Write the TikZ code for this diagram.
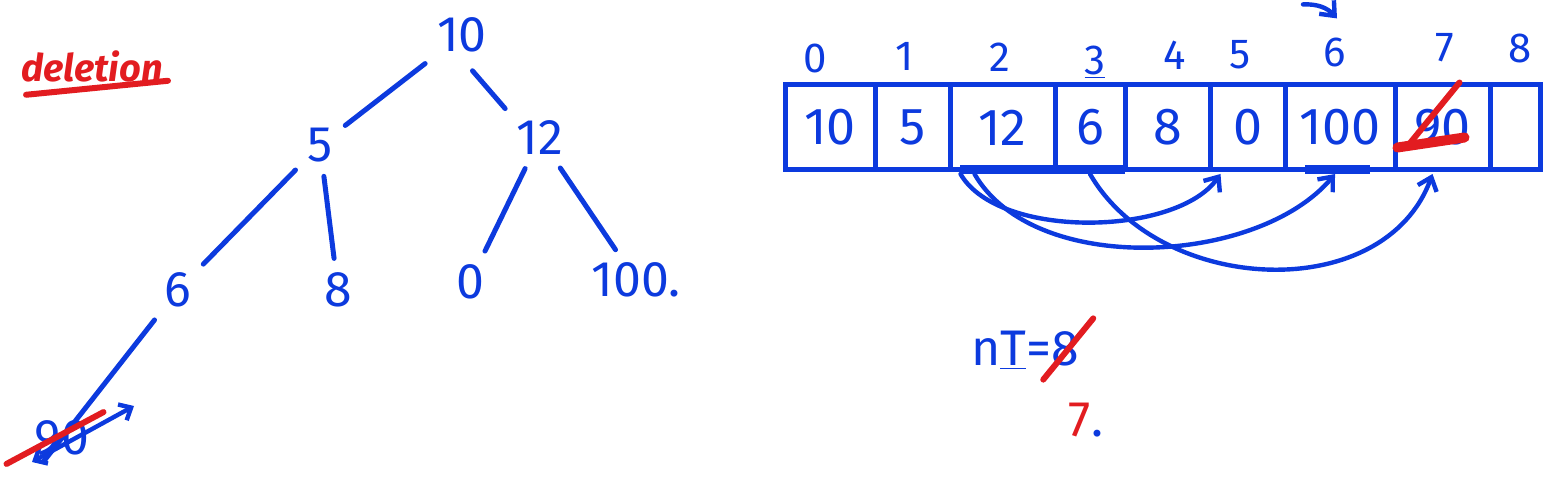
\documentclass[tikz,border=0pt]{standalone}
\usepackage{fontspec}
\setmainfont{Fira Sans}
\usetikzlibrary{calc,arrows.meta}
\definecolor{penBlue}{RGB}{12,58,222}
\definecolor{penRed}{RGB}{226,28,32}

\begin{document}
\begin{tikzpicture}[x=0.5pt, y=-0.5pt]
    % Styles
    \tikzstyle{key} = [text=penBlue, font=\fontsize{25}{28}\selectfont, inner sep=3pt]
    \tikzstyle{edge} = [penBlue, line width=2.5pt, line cap=round, shorten <=4pt, shorten >=4pt]
    \tikzstyle{cell} = [draw=penBlue, line width=2.5pt, minimum height=42.5pt, inner sep=0pt, outer sep=0pt, text=penBlue, font=\fontsize{26}{30}\selectfont]
    \tikzstyle{index} = [text=penBlue, font=\fontsize{21}{24}\selectfont]
    \tikzstyle{arrow} = [-{Straight Barb[length=6pt, width=10pt]}, penBlue, line width=2.2pt, line cap=round]
    \tikzstyle{strike} = [penRed, line width=3pt, line cap=round]

    \useasboundingbox (0,0) rectangle (1543,480);

    % Title
    \node[text=penRed, font=\fontsize{19}{22}\selectfont\bfseries\itshape] (title) at (92,66) {deletion};
    \draw[strike] ($(title.south west)+(12,6)$) -- ($(title.south east)+(-2,-8)$);

    % Tree
    \node[key] (n10) at (462,35) {10};
    \node[key] (n5) at (320,145) {5};
    \node[key] (n12) at (540,138) {12};
    \node[key] (n6) at (178,290) {6};
    \node[key] (n8) at (338,290) {8};
    \node[key] (n0) at (470,282) {0};
    \node[key] (n100) at (636,280) {100.};
    \node[key] (n90) at (62,438) {90};

    \draw[edge] (n10) -- (n5);
    \draw[edge, shorten <=8pt] (n10.south) -- (n12.north west);
    \draw[edge] (n5) -- (n6);
    \draw[edge] (n5) -- (n8);
    \draw[edge] (n12) -- (n0);
    \draw[edge] (n12) -- (n100);
    \draw[edge, shorten >=-30pt] (n6) -- (n90);
    \draw[arrow, {Straight Barb[length=5pt, width=9pt]}-{Straight Barb[length=5pt, width=9pt]}] ($(n90)+(-30,24)$) -- ($(n90)+(72,-32)$);
    \draw[strike] ($(n90.south west)+(-22,2)$) -- ($(n90.north east)+(8,-2)$);

    % Array
    \node[cell, minimum width=45pt] (c0) at (830,127.5) {10};
    \node[cell, minimum width=37.5pt] (c1) at (912.5,127.5) {5};
    \node[cell, minimum width=52.5pt] (c2) at (1002.5,127.5) {12};
    \node[cell, minimum width=35pt] (c3) at (1090,127.5) {6};
    \node[cell, minimum width=42.5pt] (c4) at (1167.5,127.5) {8};
    \node[cell, minimum width=37.5pt] (c5) at (1247.5,127.5) {0};
    \node[cell, minimum width=55pt] (c6) at (1340,127.5) {100};
    \node[cell, minimum width=47.5pt] (c7) at (1442.5,127.5) {90};
    \node[cell, minimum width=25pt] (c8) at (1515,127.5) {};

    % Indices
    \node[index] (i0) at (815,58) {0};
    \node[index] (i1) at (905,56) {1};
    \node[index] (i2) at (1000,57) {2};
    \node[index] (i3) at (1095,62) {\underline{3}};
    \node[index] (i4) at (1175,55) {4};
    \node[index] (i5) at (1240,55) {5};
    \node[index] (i6) at (1335,52) {6};
    \node[index] (i7) at (1445,48) {7};
    \node[index] (i8) at (1520,48) {8};
    \draw[arrow] ($(i6.north)+(-32,-26)$) to[bend left=25] ($(i6.north)+(2,-12)$);

    % Swaps
    \draw[penBlue, line width=4.5pt] ($(c2.south west)+(10,0)$) -- (c3.south east);
    \draw[penBlue, line width=4.5pt] ($(c6.south)+(-35,0)$) -- ($(c6.south)+(30,0)$);
    \draw[arrow] ($(c2.south)+(-42,4)$) to[out=-60, in=-125, looseness=0.75] ($(c5.south)+(-27,4)$);
    \draw[arrow] ($(c2.south)+(-28,4)$) to[out=-60, in=-130, looseness=0.85] ($(c6.south)+(-5,4)$);
    \draw[arrow] ($(c3.south)+(0,4)$) to[out=-60, in=-110, looseness=1.05] ($(c7.south)+(-10,4)$);

    % Removed value
    \draw[strike] ($(c7)+(17,-45)$) -- ($(c7)+(-32,15)$);
    \draw[penRed, line width=5pt, line cap=round] ($(c7)+(-45,20)$) -- ($(c7)+(22,10)$);

    % Count
    \node[key] (count) at (1025,350) {n\underline{T}=8};
    \draw[strike] ($(count.south east)+(-42,4)$) -- ($(count.north east)+(8,-6)$);
    \node[key, text=penRed] (newcount) at (1086,420) {7\textcolor{penBlue}{.}};
\end{tikzpicture}
\end{document}
